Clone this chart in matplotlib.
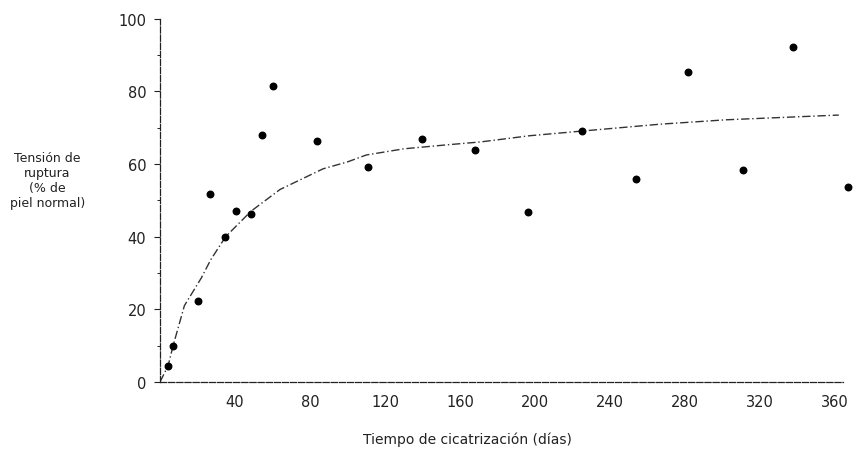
import matplotlib
matplotlib.use("Agg")
import matplotlib.pyplot as plt

# Observed data points (days, % of normal)
obs_days = [4.3, 7, 20, 26.7, 34.7, 40.5, 48.5, 54.4, 60, 83.7, 111, 139.7,
            168, 196, 225, 254, 281.6, 311, 337.6, 367]
obs_pct = [4.4, 10, 22.3, 51.8, 40, 47, 46.3, 68, 81.5, 66.4, 59.2, 67,
           64, 46.8, 69, 56, 85.4, 58.4, 92.3, 53.7]

# Fitted trend curve
curve_days = [0, 4.3, 7, 13, 22, 27, 35, 48.5, 64, 87, 100, 110, 130, 153,
              171, 197, 223, 267, 302, 362]
curve_pct = [0, 4.4, 10, 21, 28.6, 33.6, 40, 47, 53, 58.7, 60.6, 62.5, 64.2,
             65.3, 66.1, 67.8, 69, 71, 72.2, 73.5]

x_ticks = [40, 80, 120, 160, 200, 240, 280, 320, 360]
y_ticks = [0, 20, 40, 60, 80, 100]

xlabel = "Tiempo de cicatrización (días)"
ylabel = "Tensión de\nruptura\n(% de\npiel normal)"

fig = plt.figure(figsize=(8.65, 4.52), dpi=100)
ax = fig.add_axes([0.185, 0.153, 0.802, 0.803])

ax.plot(curve_days, curve_pct, linestyle=(0, (6, 2, 1, 2)), color="#333333",
        linewidth=1.0, zorder=2)
ax.scatter(obs_days, obs_pct, s=22, color="black", zorder=3)

ax.set_xlim(0, 370)
ax.set_ylim(0, 100)
ax.set_xticks(x_ticks)
ax.set_yticks(y_ticks)
ax.set_yticks([10, 30, 50, 70, 90], minor=True)
ax.tick_params(axis="both", labelsize=10.5, colors="#222222")
ax.tick_params(axis="x", length=0, pad=9)
ax.tick_params(axis="y", which="major", length=4, pad=6)
ax.tick_params(axis="y", which="minor", length=2)

for side in ("top", "right"):
    ax.spines[side].set_visible(False)
for side in ("left", "bottom"):
    ax.spines[side].set_linewidth(0.9)
    ax.spines[side].set_color("#222222")
    ax.spines[side].set_linestyle((0, (5, 1.5)))
ax.spines["bottom"].set_bounds(0, 364)

fig.text(0.54, 0.01, xlabel, ha="center", va="bottom", fontsize=10, color="#222222")
fig.text(0.055, 0.6, ylabel, ha="center", va="center", fontsize=9,
         color="#222222", linespacing=1.2)

fig.savefig("out.png", dpi=100)
